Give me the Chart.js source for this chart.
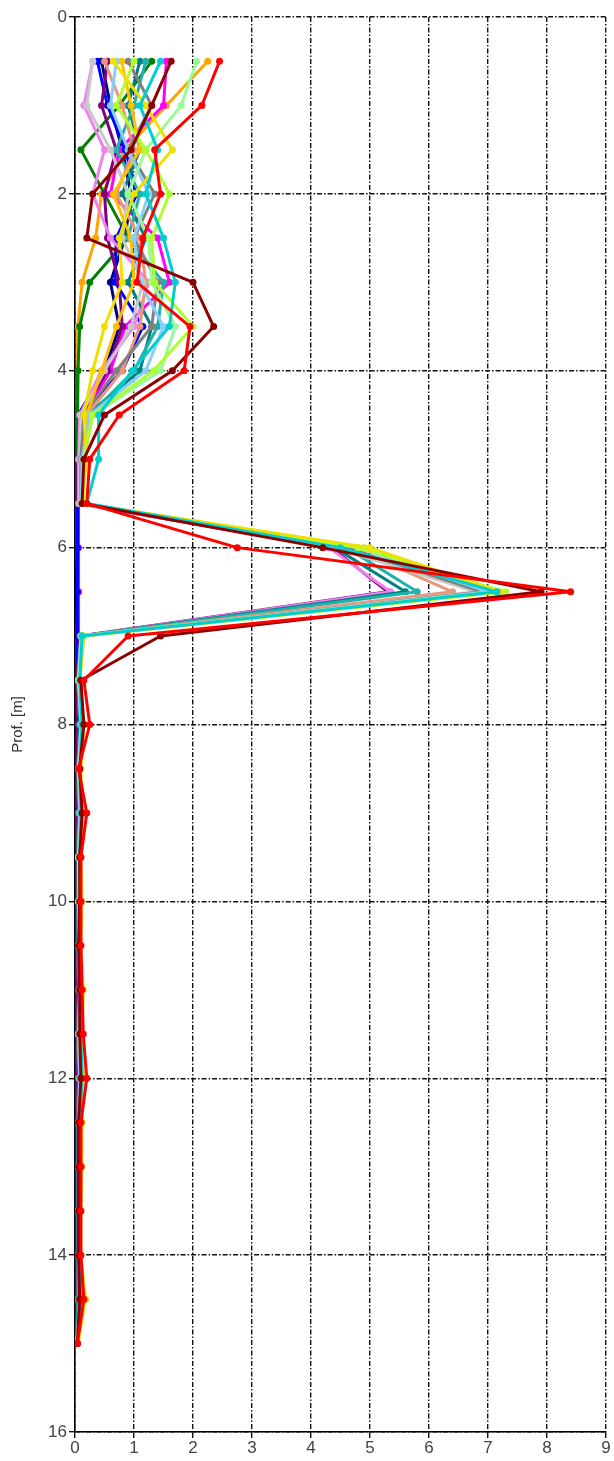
<!DOCTYPE html>
<html>
<head>
<meta charset="utf-8">
<script src="https://cdn.jsdelivr.net/npm/chart.js@4.4.1/dist/chart.umd.min.js"></script>
<style>
  body { margin: 0; background: #fff; }
  #wrap { width: 614px; height: 1461px; }
</style>
</head>
<body>
<div id="wrap"><canvas id="mycanvas"></canvas></div>
<script>
// depths (m) of each reading
var depths = [0.5, 1, 1.5, 2, 2.5, 3, 3.5, 4, 4.5, 5, 5.5, 6, 6.5, 7, 7.5, 8, 8.5, 9, 9.5, 10, 10.5, 11, 11.5, 12, 12.5, 13, 13.5, 14, 14.5, 15];

var xTicks = [0, 1, 2, 3, 4, 5, 6, 7, 8, 9];
var yTicks = [0, 2, 4, 6, 8, 10, 12, 14, 16];

// one array per profile
var red       = [2.45, 2.15, 1.35, 1.45, 1.15, 1.05, 1.95, 1.85, 0.75, 0.25, 0.20, 2.75, 8.40, 0.90, 0.15, 0.25, 0.06, 0.20, 0.10, 0.10, 0.10, 0.12, 0.14, 0.20, 0.10, 0.10, 0.10, 0.10, 0.15, 0.04];
var darkRed   = [1.63, 1.30, 0.95, 0.30, 0.20, 2.00, 2.35, 1.65, 0.50, 0.15, 0.12, 4.20, 7.90, 1.45, 0.10, 0.15, 0.08, 0.12, 0.08, 0.08, 0.06, 0.08, 0.08, 0.10, 0.06, 0.06, 0.06, 0.06, 0.08, 0.04];
var green     = [1.30, 0.75, 0.10, 0.50, 0.90, 0.25, 0.08, 0.05, 0.04, 0.03, 0.03, 0.03, 0.05, 0.03, 0.03, 0.05, 0.03, 0.05, 0.03, 0.03, 0.03, 0.03, 0.05, 0.04, 0.03, 0.03, 0.03, 0.03, 0.03, 0.02];
var blue      = [0.38, 0.55, 0.85, 1.05, 0.70, 0.68, 1.15, 0.80, 0.10, 0.05, 0.04, 0.04, 0.04, 0.04, 0.03, 0.04, 0.03, 0.03, 0.03, 0.03, 0.03, 0.03, 0.03, 0.03, 0.03, 0.03, 0.03, 0.03, 0.03, 0.02];
var magenta   = [1.55, 1.50, 0.75, 0.60, 1.40, 1.60, 0.85, 0.60, 0.15, 0.08, 0.06, 0.06, 0.06, 0.06, 0.05, 0.06, 0.05, 0.06, 0.05, 0.05, 0.05, 0.05, 0.05, 0.05, 0.05, 0.04, 0.04, 0.04, 0.04, 0.03];
var yellow    = [0.65, 1.20, 1.65, 1.00, 0.75, 0.80, 0.50, 0.30, 0.15, 0.20, 0.12, 5.00, 7.20, 0.15, 0.08, 0.15, 0.10, 0.12, 0.10, 0.12, 0.10, 0.14, 0.12, 0.15, 0.12, 0.12, 0.10, 0.10, 0.18, 0.05];
var orange    = [2.25, 1.55, 0.85, 0.45, 0.35, 0.12, 0.05, 0.05, 0.05, 0.04, 0.04, 0.04, 0.05, 0.04, 0.04, 0.05, 0.04, 0.05, 0.04, 0.04, 0.04, 0.04, 0.04, 0.05, 0.04, 0.04, 0.04, 0.04, 0.04, 0.03];
var gold      = [0.79, 0.95, 1.10, 0.65, 0.95, 1.00, 0.70, 0.45, 0.20, 0.15, 0.10, 4.90, 7.05, 0.12, 0.08, 0.12, 0.08, 0.10, 0.08, 0.08, 0.08, 0.10, 0.10, 0.12, 0.08, 0.10, 0.08, 0.08, 0.12, 0.04];
var cyan      = [1.45, 1.10, 1.40, 1.20, 1.50, 1.70, 1.60, 0.97, 0.40, 0.40, 0.20, 4.50, 7.15, 0.12, 0.08, 0.12, 0.08, 0.10, 0.08, 0.10, 0.08, 0.10, 0.10, 0.12, 0.08, 0.10, 0.08, 0.08, 0.10, 0.04];
var lime      = [1.00, 0.70, 1.20, 1.60, 1.30, 1.35, 2.00, 1.33, 0.30, 0.15, 0.15, 4.80, 7.30, 0.15, 0.08, 0.15, 0.08, 0.10, 0.08, 0.08, 0.08, 0.10, 0.08, 0.10, 0.08, 0.08, 0.08, 0.08, 0.10, 0.04];
var gray      = [0.90, 1.30, 0.90, 1.35, 1.00, 1.40, 1.30, 0.70, 0.15, 0.10, 0.10, 4.60, 6.90, 0.12, 0.06, 0.10, 0.06, 0.08, 0.06, 0.06, 0.06, 0.08, 0.06, 0.08, 0.06, 0.06, 0.06, 0.06, 0.08, 0.03];
var silver    = [0.30, 0.20, 0.60, 0.90, 0.80, 1.15, 0.95, 0.50, 0.10, 0.08, 0.08, 4.40, 6.80, 0.10, 0.06, 0.12, 0.08, 0.15, 0.10, 0.10, 0.08, 0.10, 0.10, 0.12, 0.08, 0.08, 0.08, 0.08, 0.10, 0.03];
var violet    = [0.30, 0.15, 0.50, 0.30, 0.60, 1.25, 1.00, 0.45, 0.08, 0.06, 0.06, 4.30, 5.35, 0.10, 0.05, 0.08, 0.05, 0.06, 0.05, 0.05, 0.05, 0.06, 0.05, 0.06, 0.05, 0.05, 0.05, 0.05, 0.05, 0.03];
var teal      = [1.10, 0.90, 1.10, 0.80, 1.20, 0.90, 1.30, 1.10, 0.20, 0.10, 0.10, 4.40, 5.60, 0.10, 0.05, 0.08, 0.05, 0.06, 0.05, 0.05, 0.05, 0.06, 0.05, 0.06, 0.05, 0.05, 0.05, 0.05, 0.05, 0.03];
var seaGreen  = [1.20, 1.00, 0.70, 1.10, 0.90, 1.50, 1.40, 1.00, 0.25, 0.12, 0.10, 4.60, 5.80, 0.12, 0.06, 0.10, 0.06, 0.08, 0.06, 0.06, 0.06, 0.08, 0.06, 0.08, 0.06, 0.06, 0.06, 0.06, 0.06, 0.03];
var salmon    = [0.50, 0.80, 1.00, 0.70, 1.10, 1.20, 1.10, 0.80, 0.20, 0.10, 0.10, 4.70, 6.40, 0.12, 0.06, 0.10, 0.06, 0.08, 0.06, 0.06, 0.06, 0.08, 0.06, 0.08, 0.06, 0.06, 0.06, 0.06, 0.08, 0.03];
var skyBlue   = [0.70, 0.60, 0.90, 1.25, 1.00, 1.10, 1.50, 1.20, 0.25, 0.12, 0.10, 4.80, 7.00, 0.10, 0.06, 0.10, 0.06, 0.08, 0.06, 0.06, 0.06, 0.08, 0.06, 0.08, 0.06, 0.06, 0.06, 0.06, 0.08, 0.03];
var paleGreen = [2.06, 1.80, 1.20, 0.90, 1.25, 1.30, 1.70, 1.45, 0.30, 0.15, 0.12, 4.90, 7.10, 0.12, 0.06, 0.12, 0.06, 0.10, 0.06, 0.08, 0.06, 0.10, 0.08, 0.10, 0.06, 0.08, 0.06, 0.06, 0.10, 0.03];
var purple    = [0.55, 0.45, 0.70, 0.50, 0.55, 0.75, 0.80, 0.55, 0.10, 0.05, 0.04, 4.35, 5.30, 0.08, 0.03, 0.04, 0.03, 0.03, 0.03, 0.03, 0.03, 0.03, 0.03, 0.03, 0.03, 0.03, 0.03, 0.03, 0.03, 0.02];
var navy      = [0.45, 0.60, 0.80, 0.95, 0.85, 0.60, 0.75, 0.50, 0.05, 0.02, 0.02, 0.02, 0.02, 0.02, 0.02, 0.02, 0.02, 0.02, 0.02, 0.02, 0.02, 0.02, 0.02, 0.02, 0.02, 0.02, 0.02, 0.02, 0.02, 0.01];

// first one is drawn on top
var series = [red, darkRed, cyan, yellow, lime, paleGreen, skyBlue, gold, gray, silver, salmon, seaGreen, teal, violet, purple, blue, magenta, green, orange, navy];
var colors = ['#ff0000', '#8b0000', '#00ced1', '#f0e000', '#adff2f', '#98fb98', '#87cefa', '#ffc000', '#808080', '#c8c8c8', '#e9967a', '#20b2aa', '#008080', '#ee82ee', '#800080', '#0000ff', '#ff00ff', '#008000', '#ffa500', '#000080'];

var datasets = [];
for (var s in series) {
	var pts = [];
	for (var i in depths) {
		pts.push({x: series[s][i], y: depths[i]});
	}
	datasets.push({
		data: pts,
		showLine: true,
		borderColor: colors[s],
		backgroundColor: colors[s],
		borderWidth: 3,
		borderJoinStyle: 'round',
		pointRadius: 3.5,
		pointBorderWidth: 0,
		tension: 0
	});
}

var gridStyle = {
	color: '#111',
	lineWidth: 1.4,
	tickLength: 6,
	tickColor: '#111',
	tickBorderDash: []
};

var ctx = document.getElementById('mycanvas');
var chart = new Chart(ctx, {
	type: 'scatter',
	data: { datasets: datasets },
	options: {
		animation: false,
		responsive: true,
		maintainAspectRatio: false,
		layout: { padding: { top: 17, right: 8, left: 0, bottom: 0 } },
		plugins: { legend: { display: false }, tooltip: { enabled: false } },
		scales: {
			x: {
				type: 'linear',
				min: 0, max: 9,
				afterBuildTicks: function(scale) { scale.ticks = xTicks.map(function(v){ return {value: v}; }); },
				afterFit: function(scale) { scale.height = 29; },
				grid: gridStyle,
				border: { display: true, color: '#000', width: 1.6, dash: [5, 2, 1.5, 2] },
				ticks: { color: '#444', padding: 0, font: { family: 'Liberation Sans', size: 17 } }
			},
			y: {
				type: 'linear',
				reverse: true,
				min: 0, max: 16,
				afterBuildTicks: function(scale) { scale.ticks = yTicks.map(function(v){ return {value: v}; }); },
				afterFit: function(scale) { scale.width = 75; },
				grid: gridStyle,
				border: { display: true, color: '#000', width: 1.6, dash: [5, 2, 1.5, 2] },
				title: { display: true, text: 'Prof. [m]', color: '#333', padding: { top: 9, bottom: 0 }, font: { family: 'Liberation Sans', size: 15 } },
				ticks: { color: '#444', padding: 2, font: { family: 'Liberation Sans', size: 17 } }
			}
		}
	}
});
</script>
</body>
</html>
